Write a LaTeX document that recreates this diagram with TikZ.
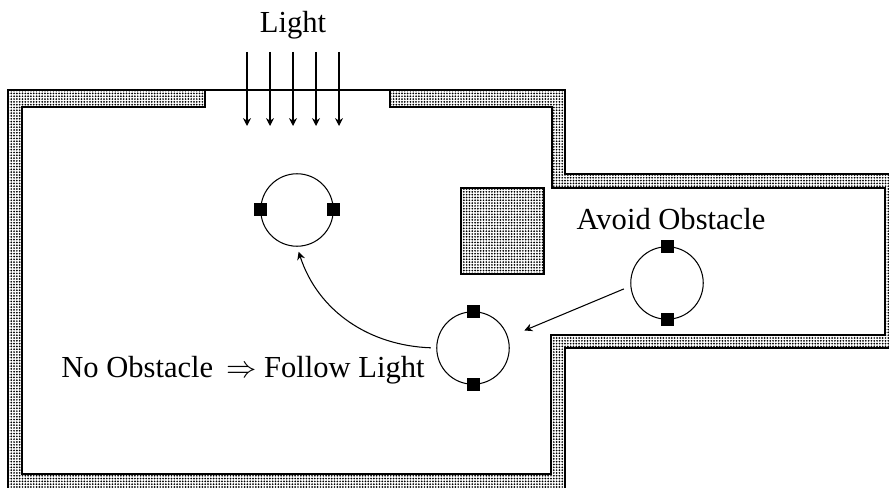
\documentclass[tikz,border=0pt]{standalone}
\usepackage{fontspec}
\setmainfont{Liberation Serif}
\usetikzlibrary{arrows.meta, patterns.meta}

\begin{document}
\begin{tikzpicture}[
    x=0.02cm, y=0.02cm,
    line width=0.6pt,
    font=\fontsize{17.4}{20}\selectfont,
    >={Stealth[length=4.5pt, width=4.5pt]},
    wall/.style={draw=black, line width=0.9pt, pattern={Dots[distance=1.6pt, radius=0.55pt]}},
    robot/.style={circle, draw, minimum size=1.45cm, inner sep=0pt},
    sensor/.style={rectangle, fill=black, minimum size=0.26cm, inner sep=0pt},
    txt/.style={inner sep=0pt, anchor=base}
]
    \clip (0,0) rectangle (889,487);

    % --- 1. Walls ---
    \draw[wall] (205,397) -- (8,397) -- (8,-5) -- (565,-5) -- (565,139)
        -- (900,139) -- (900,313) -- (565,313) -- (565,397) -- (390,397)
        -- (390,380) -- (552,380) -- (552,299) -- (885,299) -- (885,152)
        -- (551,152) -- (551,13) -- (22,13) -- (22,380) -- (205,380) -- cycle;
    \draw (205,397) -- (390,397);

    % --- 2. Obstacle ---
    \draw[wall] (461,213) rectangle (544,299);

    % --- 3. Light ---
    \node[txt] (light) at (293,454) {Light};
    \foreach \x in {247,270,293,316,339}
        \draw[->] (\x,435) -- (\x,361);

    % --- 4. Robots ---
    \node[robot] (bot_light) at (297,277) {};
    \node[sensor] (bl_w) at (bot_light.west) {};
    \node[sensor] (bl_e) at (bot_light.east) {};

    \node[robot] (bot_mid) at (473,139) {};
    \node[sensor] (bm_n) at (bot_mid.north) {};
    \node[sensor] (bm_s) at (bot_mid.south) {};

    \node[robot] (bot_avoid) at (667,204) {};
    \node[sensor] (ba_n) at (bot_avoid.north) {};
    \node[sensor] (ba_s) at (bot_avoid.south) {};

    % --- 5. Labels ---
    \node[txt] (avoid) at (671,257) {Avoid Obstacle};
    \node[txt] (follow) at (243,110) {No Obstacle\hspace{3pt} $\Rightarrow$ Follow Light};

    % --- 6. Moves ---
    \draw[->, shorten <=4pt, shorten >=10pt] (bot_avoid.185) -- (bot_mid.17);
    \draw[->, shorten <=3pt, shorten >=3pt] (bot_mid.west) to [out=178, in=-72] (bot_light.south);

\end{tikzpicture}
\end{document}
